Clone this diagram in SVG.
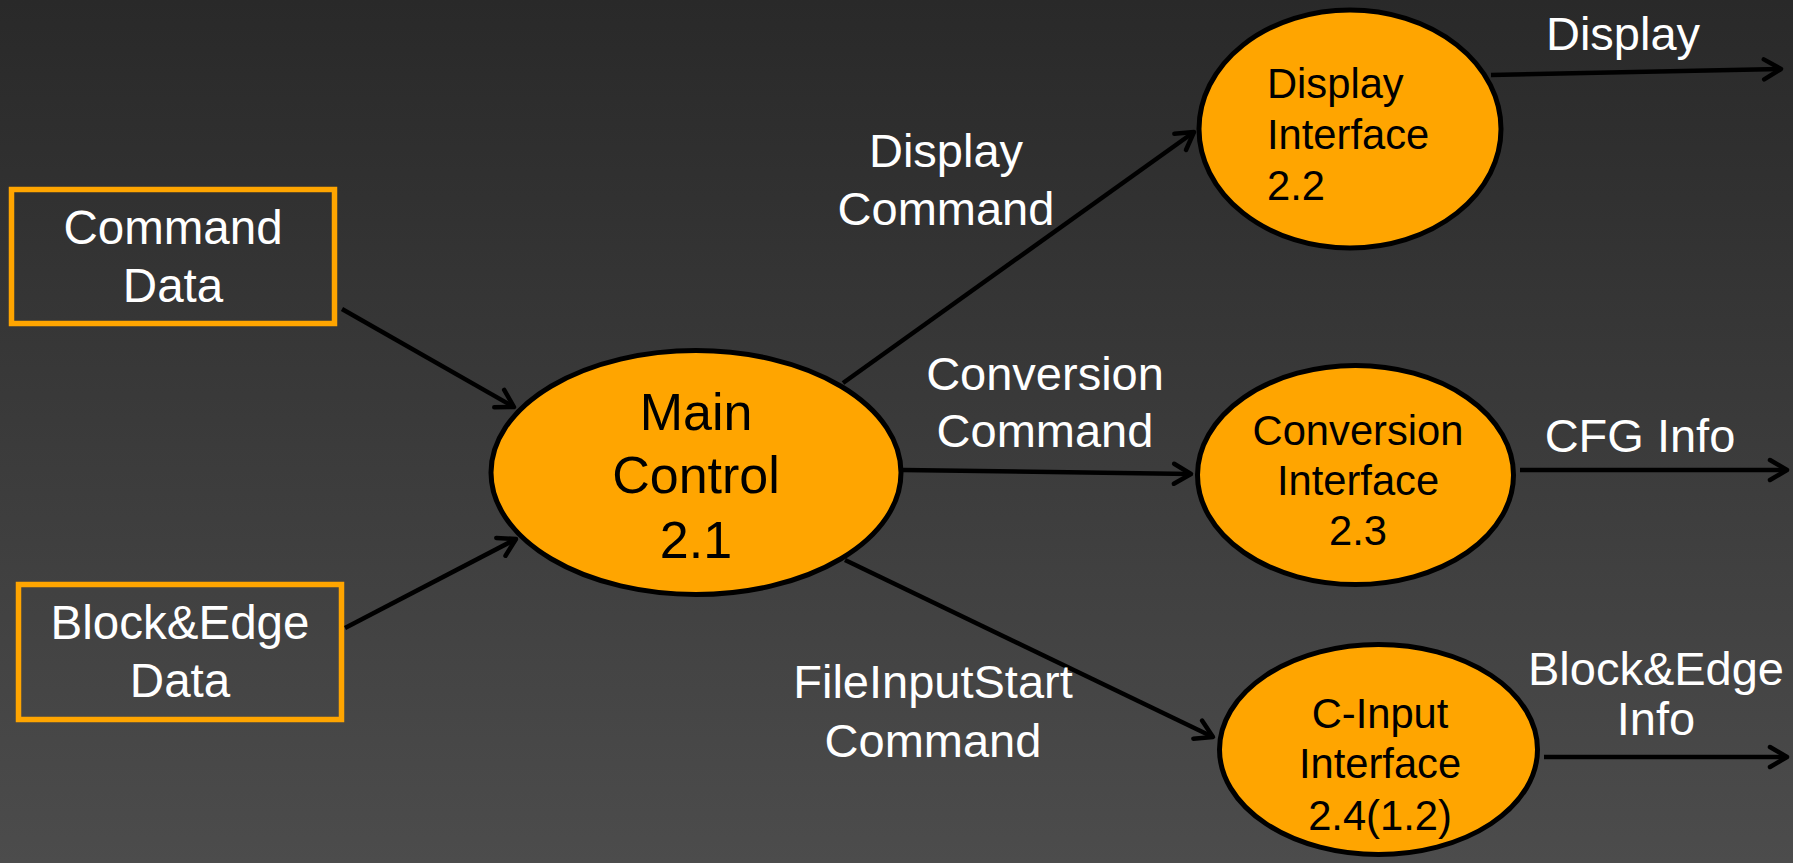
<svg xmlns="http://www.w3.org/2000/svg" width="1793" height="863" viewBox="0 0 1793 863">
<defs>
<linearGradient id="bg" x1="0" y1="0" x2="0" y2="1">
<stop offset="0" stop-color="#292929"/>
<stop offset="1" stop-color="#4c4c4c"/>
</linearGradient>
<marker id="arr" markerUnits="userSpaceOnUse" viewBox="-22 -14 26 28" markerWidth="26" markerHeight="28" refX="0" refY="0" orient="auto">
<path d="M-17,-10 L0,0 L-17,10" fill="none" stroke="#000" stroke-width="4.5" stroke-linecap="round" stroke-linejoin="round"/>
</marker>
<style>
.box{fill:none;stroke:#FFA500;stroke-width:5.5}
.proc{fill:#FFA500;stroke:#000;stroke-width:5}
.wt{font-family:"Liberation Sans",Arial,sans-serif;fill:#fff;font-size:47px;text-anchor:middle}
.bt{font-family:"Liberation Sans",Arial,sans-serif;fill:#000;font-size:41.7px;text-anchor:middle}
.conn line{stroke:#000;stroke-width:4.5;fill:none;marker-end:url(#arr)}
</style>
</defs>
<rect x="0" y="0" width="1793" height="863" fill="url(#bg)"/>

<g id="command-data">
<rect class="box" x="11.5" y="189.5" width="323" height="134"/>
<text class="wt" x="173" y="244" style="font-size:47.5px">Command</text>
<text class="wt" x="173" y="302" style="font-size:47.5px">Data</text>
</g>

<g id="block-edge-data">
<rect class="box" x="18.5" y="584.5" width="323" height="135"/>
<text class="wt" x="180" y="639" style="font-size:47.5px">Block&amp;Edge</text>
<text class="wt" x="180" y="697" style="font-size:47.5px">Data</text>
</g>

<g id="main-control">
<ellipse class="proc" cx="696" cy="472.5" rx="205" ry="122"/>
<text class="bt" x="696" y="430" style="font-size:52px">Main</text>
<text class="bt" x="696" y="493" style="font-size:52px">Control</text>
<text class="bt" x="696" y="558" style="font-size:52px">2.1</text>
</g>

<g id="display-interface">
<ellipse class="proc" cx="1350" cy="129" rx="151" ry="119"/>
<text class="bt" x="1267" y="98" style="text-anchor:start">Display</text>
<text class="bt" x="1267" y="149" style="text-anchor:start">Interface</text>
<text class="bt" x="1267" y="200" style="text-anchor:start">2.2</text>
</g>

<g id="conversion-interface">
<ellipse class="proc" cx="1355.5" cy="475" rx="158" ry="109.5"/>
<text class="bt" x="1358" y="445">Conversion</text>
<text class="bt" x="1358" y="495">Interface</text>
<text class="bt" x="1358" y="545">2.3</text>
</g>

<g id="c-input-interface">
<ellipse class="proc" cx="1378.5" cy="749.5" rx="159" ry="105"/>
<text class="bt" x="1380" y="728">C-Input</text>
<text class="bt" x="1380" y="778">Interface</text>
<text class="bt" x="1380" y="830">2.4(1.2)</text>
</g>

<g id="connectors" class="conn">
<line x1="342" y1="309" x2="514" y2="407"/>
<line x1="345" y1="628" x2="516" y2="539"/>
<line x1="843" y1="383" x2="1194" y2="132"/>
<line x1="903" y1="470" x2="1191" y2="474"/>
<line x1="845" y1="560" x2="1213" y2="737"/>
<line x1="1491" y1="75" x2="1781" y2="69"/>
<line x1="1520" y1="470" x2="1787" y2="470"/>
<line x1="1544" y1="757" x2="1787" y2="757"/>
</g>

<g id="labels">
<text class="wt" x="946" y="167">Display</text>
<text class="wt" x="946" y="225">Command</text>
<text class="wt" x="1045" y="390">Conversion</text>
<text class="wt" x="1045" y="447">Command</text>
<text class="wt" x="933" y="698">FileInputStart</text>
<text class="wt" x="933" y="757">Command</text>
<text class="wt" x="1623" y="50">Display</text>
<text class="wt" x="1640" y="452">CFG Info</text>
<text class="wt" x="1656" y="685">Block&amp;Edge</text>
<text class="wt" x="1656" y="735">Info</text>
</g>
</svg>
